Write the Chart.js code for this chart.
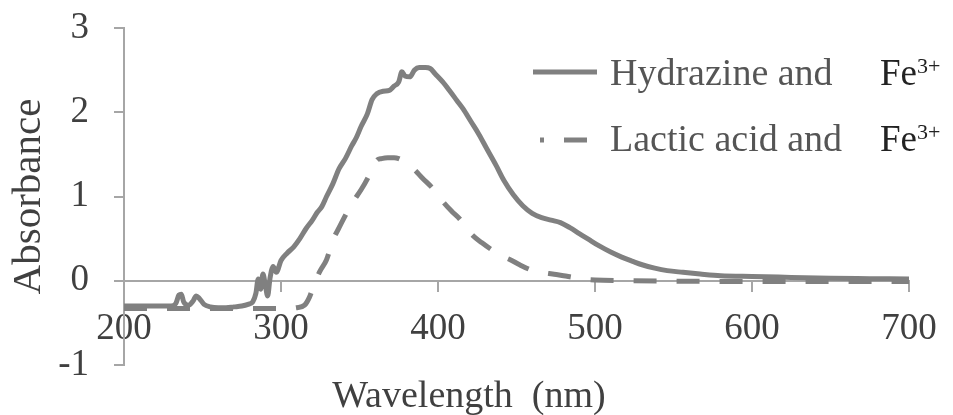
<!DOCTYPE html>
<html>
<head>
<meta charset="utf-8">
<script src="https://cdn.jsdelivr.net/npm/chart.js@4/dist/chart.umd.min.js"></script>
<style>
  html, body { margin: 0; padding: 0; background: #ffffff; }
  #wrap { width: 953px; height: 415px; position: relative; }
</style>
</head>
<body>
<div id="wrap"><canvas id="c" width="953" height="415"></canvas></div>
<script>
// ---- data ----
const hydrazineWavelength = [200,210,220,230,233,235,236.5,238,241,244,246,248,251,255,260,265,270,275,279,282,284,285.5,287,288.5,290,291.5,293,295,297,300,304,308,312,316,320,323,326,329,333,337,341,345,348,351,355,358,361,365,369,372,375,377,379,382,385,388,392,395,398,403,408,412,416,421,426,431,437,442,448,454,460,466,472,478,484,490,496,503,510,517,524,530,538,546,556,567,580,600,625,650,675,700];
const hydrazineAbsorbance = [-0.30,-0.30,-0.30,-0.30,-0.27,-0.17,-0.16,-0.25,-0.29,-0.24,-0.18,-0.21,-0.28,-0.31,-0.32,-0.32,-0.31,-0.30,-0.28,-0.25,-0.15,0.02,-0.10,0.08,-0.05,-0.18,0.03,0.17,0.10,0.24,0.33,0.40,0.50,0.62,0.72,0.81,0.88,1.00,1.15,1.33,1.45,1.60,1.70,1.83,1.98,2.15,2.22,2.25,2.26,2.31,2.36,2.48,2.43,2.42,2.50,2.53,2.53,2.52,2.46,2.36,2.24,2.14,2.04,1.89,1.74,1.57,1.37,1.19,1.02,0.89,0.80,0.75,0.72,0.69,0.63,0.56,0.49,0.41,0.34,0.28,0.23,0.19,0.15,0.12,0.10,0.08,0.06,0.05,0.04,0.03,0.025,0.02];

const lacticWavelength = [200,225,250,275,300,310,315,318,320,322,325,329,333,337,340,344,347,351,355,358,361,364,368,372,375,378,382,386,390,396,400,404,409,414,418,422,428,434,440,446,452,459,466,473,480,486,493,500,520,550,600,650,700];
const lacticAbsorbance = [-0.33,-0.33,-0.33,-0.33,-0.33,-0.32,-0.29,-0.20,-0.10,0.0,0.12,0.25,0.48,0.63,0.74,0.88,0.97,1.08,1.21,1.33,1.43,1.45,1.46,1.46,1.45,1.42,1.37,1.30,1.22,1.11,1.02,0.92,0.82,0.73,0.63,0.54,0.45,0.37,0.30,0.25,0.19,0.13,0.10,0.08,0.06,0.04,0.02,0.01,0.0,-0.005,-0.01,-0.01,-0.01];

const xTickValues = [200, 300, 400, 500, 600, 700];
const yTickValues = [-1, 0, 1, 2, 3];
const seriesNames = ['Hydrazine and', 'Lactic acid and'];
const ionSymbol = 'Fe';
const ionCharge = '3+';
const xAxisTitle = 'Wavelength  (nm)';
const yAxisTitle = 'Absorbance';

// ---- styling ----
const FONT = "'Liberation Serif', 'Times New Roman', serif";
const lineColor = '#808080';
const axisColor = '#a6a6a6';
const textColor = '#404040';

const toPoints = (xs, ys) => xs.map((x, i) => ({ x: x, y: ys[i] }));

const overlay = {
  id: 'overlay',
  afterDraw(chart) {
    const ctx = chart.ctx;
    ctx.save();
    // x-axis title
    ctx.fillStyle = textColor;
    ctx.font = "38px " + FONT;
    ctx.textAlign = 'center';
    ctx.textBaseline = 'alphabetic';
    ctx.fillText(xAxisTitle, 469, 407);

    // legend
    const rows = [
      { lineY: 72, base: 85, x0: 533, x1: 597, offset: 0 },
      { lineY: 140, base: 151, x0: 540, x1: 597, offset: 19 }
    ];
    chart.data.datasets.forEach((ds, i) => {
      const r = rows[i];
      ctx.strokeStyle = ds.borderColor;
      ctx.lineWidth = ds.borderWidth;
      ctx.setLineDash(ds.borderDash || []);
      ctx.lineDashOffset = r.offset;
      ctx.lineCap = 'butt';
      ctx.beginPath();
      ctx.moveTo(r.x0, r.lineY);
      ctx.lineTo(r.x1, r.lineY);
      ctx.stroke();
      ctx.setLineDash([]);
      ctx.textAlign = 'left';
      ctx.textBaseline = 'alphabetic';
      ctx.fillStyle = '#555555';
      ctx.font = "38px " + FONT;
      ctx.fillText(ds.label, 610, r.base);
      ctx.fillStyle = '#222222';
      ctx.font = "37px " + FONT;
      ctx.fillText(ionSymbol, 880, r.base);
      const w = ctx.measureText(ionSymbol).width;
      ctx.font = "22px " + FONT;
      ctx.fillText(ionCharge, 880 + w, r.base - 12);
    });
    ctx.restore();
  }
};

new Chart(document.getElementById('c'), {
  type: 'line',
  data: {
    datasets: [
      {
        label: seriesNames[0],
        data: toPoints(hydrazineWavelength, hydrazineAbsorbance),
        borderColor: lineColor,
        borderWidth: 5,
        pointRadius: 0,
        fill: false,
        cubicInterpolationMode: 'monotone'
      },
      {
        label: seriesNames[1],
        data: toPoints(lacticWavelength, lacticAbsorbance),
        borderColor: lineColor,
        borderWidth: 5,
        borderDash: [23, 20],
        pointRadius: 0,
        fill: false,
        cubicInterpolationMode: 'monotone'
      }
    ]
  },
  options: {
    responsive: false,
    animation: false,
    devicePixelRatio: 1,
    layout: { padding: { left: 0, right: 44, top: 28, bottom: 50 } },
    plugins: {
      legend: { display: false },
      tooltip: { enabled: false },
      title: { display: false }
    },
    scales: {
      x: {
        type: 'linear',
        position: { y: 0 },
        min: xTickValues[0],
        max: xTickValues[xTickValues.length - 1],
        afterBuildTicks: (scale) => { scale.ticks = xTickValues.map(v => ({ value: v })); },
        ticks: {
          font: { family: FONT, size: 37 },
          color: textColor,
          padding: 16,
          maxRotation: 0,
          autoSkip: false
        },
        grid: { drawOnChartArea: false, drawTicks: true, tickLength: 10, color: axisColor, lineWidth: 2 },
        border: { display: true, color: axisColor, width: 2 }
      },
      y: {
        type: 'linear',
        min: yTickValues[0],
        max: yTickValues[yTickValues.length - 1],
        afterBuildTicks: (scale) => { scale.ticks = yTickValues.map(v => ({ value: v })); },
        afterFit: (scale) => { scale.width = 124; scale.paddingTop = 0; scale.paddingBottom = 0; },
        ticks: {
          font: { family: FONT, size: 37 },
          color: textColor,
          padding: 25
        },
        grid: { drawOnChartArea: false, drawTicks: true, tickLength: 10, color: axisColor, lineWidth: 2 },
        border: { display: true, color: axisColor, width: 2 },
        title: {
          display: true,
          text: yAxisTitle,
          font: { family: FONT, size: 41 },
          color: textColor,
          padding: { top: 5, bottom: 0 }
        }
      }
    }
  },
  plugins: [overlay]
});
</script>
</body>
</html>
